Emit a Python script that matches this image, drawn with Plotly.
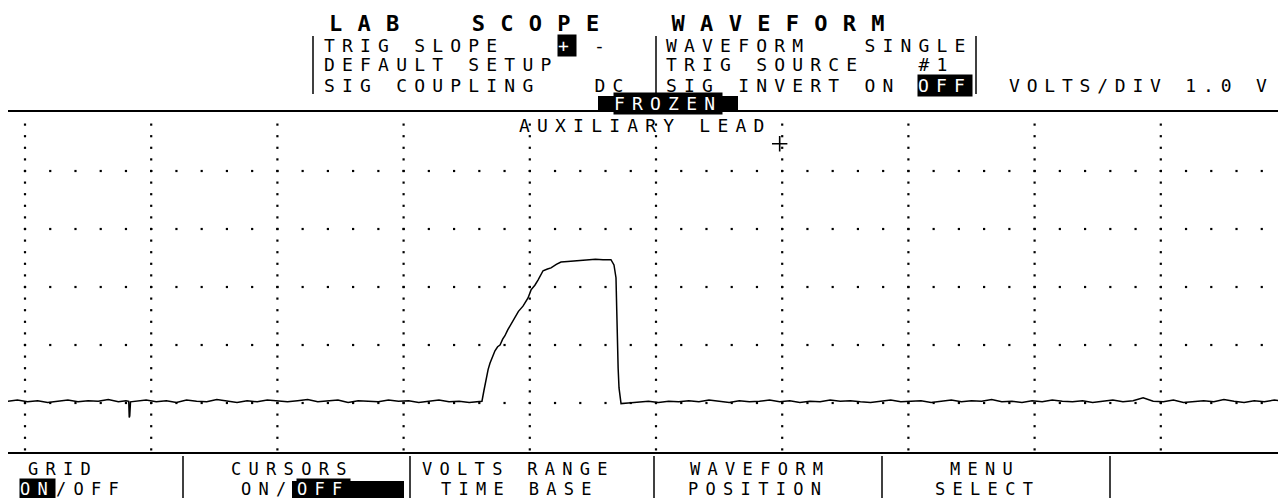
import plotly.graph_objects as go
import numpy as np

W, H = 1286, 498

# screen geometry (pixels) of the scope graticule
X0_PX, DIV_PX = 17, 126.2      # x = 0 div, pixels per division
Y0_PX, VDIV_PX = 395, 58       # 0 V row, pixels per volt (1.0 V/div)
TOP_PX, BOT_PX = 104, 444      # screen border lines

# waveform: time in divisions, voltage in volts
base_left_x = [-0.14, -0.06, 0.02, 0.1, 0.18, 0.26, 0.34, 0.42, 0.5, 0.58, 0.66, 0.74, 0.8,
               0.822, 0.826, 0.83, 0.836, 0.88, 0.96, 1.04, 1.12, 1.2, 1.28, 1.36, 1.44, 1.52,
               1.6, 1.68, 1.76, 1.84, 1.92, 2.0, 2.08, 2.16, 2.24, 2.32, 2.4, 2.48, 2.56, 2.64,
               2.72, 2.8, 2.88, 2.96, 3.04, 3.12, 3.2, 3.28, 3.36, 3.44, 3.52, 3.6]
base_left_y = [0.03, 0.05, 0.02, 0.04, 0.01, 0.03, 0.05, 0.02, 0.04, 0.03, 0.06, 0.02, 0.04,
               0.03, -0.25, -0.22, 0.02, 0.03, 0.05, 0.02, 0.04, 0.01, 0.05, 0.03, 0.02, 0.06,
               0.03, 0.01, 0.04, 0.02, 0.05, 0.03, 0.02, 0.04, 0.06, 0.02, 0.03, 0.05, 0.01, 0.04,
               0.03, 0.02, 0.05, 0.03, 0.04, 0.01, 0.03, 0.05, 0.02, 0.03, 0.01, 0.02]

pulse_x = [3.621, 3.637, 3.653, 3.67, 3.685, 3.705, 3.724, 3.745, 3.764, 3.785, 3.803, 3.825,
           3.843, 3.865, 3.883, 3.91, 3.946, 3.966, 3.986, 4.01, 4.04, 4.065, 4.085, 4.105,
           4.14, 4.168, 4.21, 4.247, 4.3, 4.358, 4.41, 4.461, 4.52, 4.58, 4.643,
           4.667, 4.683, 4.689, 4.693, 4.7, 4.707, 4.715, 4.723]
pulse_y = [0.03, 0.22, 0.43, 0.58, 0.69, 0.8, 0.9, 0.97, 1.0, 1.1, 1.16, 1.26,
           1.33, 1.43, 1.5, 1.58, 1.67, 1.74, 1.81, 1.95, 2.03, 2.12, 2.2, 2.28,
           2.31, 2.33, 2.39, 2.43, 2.44, 2.45, 2.47, 2.48, 2.48, 2.47, 2.47,
           2.38, 2.16, 1.6, 0.9, 0.6, 0.26, 0.07, -0.01]

base_right_x = [4.78, 4.86, 4.94, 5.02, 5.1, 5.18, 5.26, 5.34, 5.42, 5.5, 5.58, 5.66, 5.74,
                5.82, 5.9, 5.98, 6.06, 6.14, 6.22, 6.3, 6.38, 6.46, 6.54, 6.62, 6.7, 6.78,
                6.86, 6.94, 7.02, 7.1, 7.18, 7.26, 7.34, 7.42, 7.5, 7.58, 7.66, 7.74, 7.82,
                7.9, 7.98, 8.06, 8.14, 8.22, 8.3, 8.38, 8.46, 8.54, 8.62, 8.7, 8.78, 8.86,
                8.94, 9.02, 9.1, 9.18, 9.26, 9.34, 9.42, 9.5, 9.58, 9.66, 9.74, 9.82, 9.9,
                9.98, 10.06]
base_right_y = [0.0, 0.02, 0.03, 0.01, 0.03, 0.02, 0.04, 0.02, 0.05, 0.03, 0.01, 0.04, 0.02,
                0.03, 0.05, 0.02, 0.04, 0.01, 0.03, 0.02, 0.05, 0.03, 0.04, 0.02, 0.01, 0.03,
                0.05, 0.02, 0.03, 0.04, 0.01, 0.03, 0.05, 0.02, 0.04, 0.03, 0.06, 0.02, 0.03,
                0.01, 0.04, 0.02, 0.05, 0.03, 0.02, 0.04, 0.01, 0.03, 0.05, 0.02, 0.04, 0.09,
                0.03, 0.02, 0.05, 0.01, 0.03, 0.04, 0.02, 0.06, 0.03, 0.01, 0.04, 0.02, 0.05,
                0.03, 0.02]

cursor_x, cursor_y = [5.98], [4.47]

wave_x = base_left_x + pulse_x + base_right_x
wave_y = base_left_y + pulse_y + base_right_y

MONO = "DejaVu Sans Mono"

x_rng = [-X0_PX / DIV_PX, (W - X0_PX) / DIV_PX]
y_rng = [(Y0_PX - BOT_PX) / VDIV_PX, (Y0_PX - TOP_PX) / VDIV_PX]

fig = go.Figure()

# graticule dots: vertical dotted columns + dotted rows at each volt
gx, gy = [], []
for c in range(10):
    for v in np.arange(-0.8, 4.81, 0.2):
        gx.append(c); gy.append(v)
for r in range(5):
    for t in np.arange(0, 9.81, 0.2):
        gx.append(t); gy.append(r)
fig.add_trace(go.Scatter(x=gx, y=gy, mode="markers", hoverinfo="skip",
                         marker=dict(symbol="square", size=2.2, color="black")))

fig.add_trace(go.Scatter(x=wave_x, y=wave_y, mode="lines",
                         line=dict(color="black", width=1.5)))
fig.add_trace(go.Scatter(x=cursor_x, y=cursor_y, mode="markers",
                         marker=dict(symbol="cross-thin", size=11,
                                     line=dict(color="black", width=1.6))))


def px(x):
    return x / W


def py(y):
    return 1 - y / H


def label(x, y, text, size=18, pitch=18.0, anchor="left", inverse=False, bold=False):
    sp = pitch - 0.602 * size
    text = text.replace(" ", "\u00a0")
    if bold:
        text = f"<b>{text}</b>"
    fig.add_annotation(x=px(x), y=py(y), xref="paper", yref="paper", showarrow=False,
                       text=f'<span style="letter-spacing:{sp:.1f}px">{text}</span>',
                       xanchor=anchor, yanchor="middle",
                       font=dict(family=MONO, size=size,
                                 color="white" if inverse else "black"),
                       bgcolor="black" if inverse else "rgba(0,0,0,0)", borderpad=0)


def vbar(x, y0, y1, w=1.5):
    fig.add_shape(type="line", xref="paper", yref="paper", x0=px(x), x1=px(x),
                  y0=py(y0), y1=py(y1), line=dict(color="black", width=w))


def block(x0, x1, y0, y1):
    fig.add_shape(type="rect", xref="paper", yref="paper", x0=px(x0), x1=px(x1),
                  y0=py(y1), y1=py(y0), line=dict(width=0), fillcolor="black")


# header
label(320, 16, "LAB  SCOPE  WAVEFORM", size=22, pitch=28.5, bold=True)
vbar(305, 28, 86)
label(315, 37, "TRIG SLOPE")
label(549, 37, "+", inverse=True)
label(585, 37, "-")
label(315, 57, "DEFAULT SETUP")
label(315, 77, "SIG COUPLING   DC")
vbar(648, 28, 86)
vbar(968, 28, 86)
label(657, 37, "WAVEFORM   SINGLE")
label(657, 57, "TRIG SOURCE   #1")
label(657, 77, "SIG INVERT ON")
label(909, 77, "OFF", inverse=True)
label(1000, 77, "VOLTS/DIV 1.0 V", pitch=17.6)
block(590, 730, 88, 103)
label(660, 95.5, "FROZEN", anchor="center", inverse=True)
label(510, 117, "AUXILIARY LEAD")

# soft-key menu
for bx in [175, 402, 646, 874, 1102]:
    vbar(bx, 448, 498)
label(55, 461, "GRID", size=17, pitch=17.5, anchor="center")
label(11, 481, "ON", size=17, pitch=17.5, inverse=True)
label(47, 481, "/OFF", size=17, pitch=17.5)
label(284, 461, "CURSORS", size=17, pitch=17.5, anchor="center")
label(232, 481, "ON/", size=17, pitch=17.5)
block(284, 396, 473, 490)
label(288, 481, "OFF", size=17, pitch=17.5, inverse=True)
label(510, 461, "VOLTS RANGE", size=17, pitch=17.5, anchor="center")
label(512, 481, "TIME BASE", size=17, pitch=17.5, anchor="center")
label(752, 461, "WAVEFORM", size=17, pitch=17.5, anchor="center")
label(750, 481, "POSITION", size=17, pitch=17.5, anchor="center")
label(977, 461, "MENU", size=17, pitch=17.5, anchor="center")
label(979, 481, "SELECT", size=17, pitch=17.5, anchor="center")

fig.update_xaxes(range=x_rng, domain=[0, 1], showgrid=False, zeroline=False,
                 showticklabels=False, ticks="", showline=True, mirror=True,
                 linecolor="black", linewidth=2)
fig.update_yaxes(range=y_rng, domain=[1 - BOT_PX / H, 1 - TOP_PX / H], showgrid=False,
                 zeroline=False, showticklabels=False, ticks="", showline=False)
fig.update_layout(width=W, height=H, margin=dict(l=0, r=0, t=0, b=0),
                  paper_bgcolor="white", plot_bgcolor="white", showlegend=False)

fig.write_html("out.html")
